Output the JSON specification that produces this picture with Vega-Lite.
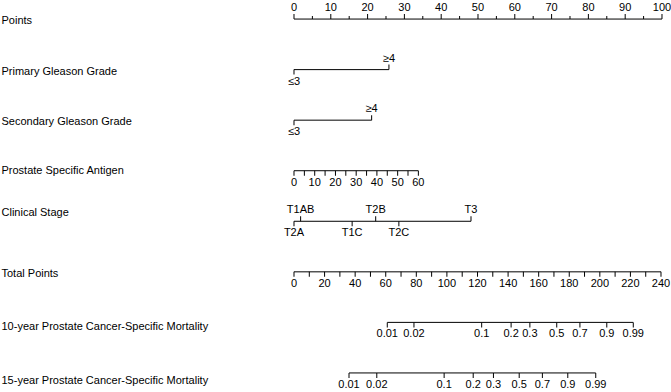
{
  "$schema": "https://vega.github.io/schema/vega-lite/v6.json",
  "width": 671,
  "height": 392,
  "autosize": {"type": "none"},
  "padding": 0,
  "background": "white",
  "config": {"view": {"stroke": null}, "text": {"font": "Liberation Sans", "fontSize": 11}},
  "data": {"values": [
    {"row": "Points", "pos": 0, "label": "0", "dir": "up", "kind": "major"},
    {"row": "Points", "pos": 5, "label": "", "dir": "up", "kind": "minor"},
    {"row": "Points", "pos": 10, "label": "10", "dir": "up", "kind": "major"},
    {"row": "Points", "pos": 15, "label": "", "dir": "up", "kind": "minor"},
    {"row": "Points", "pos": 20, "label": "20", "dir": "up", "kind": "major"},
    {"row": "Points", "pos": 25, "label": "", "dir": "up", "kind": "minor"},
    {"row": "Points", "pos": 30, "label": "30", "dir": "up", "kind": "major"},
    {"row": "Points", "pos": 35, "label": "", "dir": "up", "kind": "minor"},
    {"row": "Points", "pos": 40, "label": "40", "dir": "up", "kind": "major"},
    {"row": "Points", "pos": 45, "label": "", "dir": "up", "kind": "minor"},
    {"row": "Points", "pos": 50, "label": "50", "dir": "up", "kind": "major"},
    {"row": "Points", "pos": 55, "label": "", "dir": "up", "kind": "minor"},
    {"row": "Points", "pos": 60, "label": "60", "dir": "up", "kind": "major"},
    {"row": "Points", "pos": 65, "label": "", "dir": "up", "kind": "minor"},
    {"row": "Points", "pos": 70, "label": "70", "dir": "up", "kind": "major"},
    {"row": "Points", "pos": 75, "label": "", "dir": "up", "kind": "minor"},
    {"row": "Points", "pos": 80, "label": "80", "dir": "up", "kind": "major"},
    {"row": "Points", "pos": 85, "label": "", "dir": "up", "kind": "minor"},
    {"row": "Points", "pos": 90, "label": "90", "dir": "up", "kind": "major"},
    {"row": "Points", "pos": 95, "label": "", "dir": "up", "kind": "minor"},
    {"row": "Points", "pos": 100, "label": "100", "dir": "up", "kind": "major"},

    {"row": "Primary Gleason Grade", "pos": 0, "label": "≤3", "dir": "down", "kind": "major"},
    {"row": "Primary Gleason Grade", "pos": 25.8, "label": "≥4", "dir": "up", "kind": "major"},

    {"row": "Secondary Gleason Grade", "pos": 0, "label": "≤3", "dir": "down", "kind": "major"},
    {"row": "Secondary Gleason Grade", "pos": 21.1, "label": "≥4", "dir": "up", "kind": "major"},

    {"row": "Prostate Specific Antigen", "pos": 0, "label": "0", "dir": "down", "kind": "major"},
    {"row": "Prostate Specific Antigen", "pos": 2.82, "label": "", "dir": "down", "kind": "major"},
    {"row": "Prostate Specific Antigen", "pos": 5.63, "label": "10", "dir": "down", "kind": "major"},
    {"row": "Prostate Specific Antigen", "pos": 8.45, "label": "", "dir": "down", "kind": "major"},
    {"row": "Prostate Specific Antigen", "pos": 11.27, "label": "20", "dir": "down", "kind": "major"},
    {"row": "Prostate Specific Antigen", "pos": 14.08, "label": "", "dir": "down", "kind": "major"},
    {"row": "Prostate Specific Antigen", "pos": 16.9, "label": "30", "dir": "down", "kind": "major"},
    {"row": "Prostate Specific Antigen", "pos": 19.72, "label": "", "dir": "down", "kind": "major"},
    {"row": "Prostate Specific Antigen", "pos": 22.53, "label": "40", "dir": "down", "kind": "major"},
    {"row": "Prostate Specific Antigen", "pos": 25.35, "label": "", "dir": "down", "kind": "major"},
    {"row": "Prostate Specific Antigen", "pos": 28.17, "label": "50", "dir": "down", "kind": "major"},
    {"row": "Prostate Specific Antigen", "pos": 30.98, "label": "", "dir": "down", "kind": "major"},
    {"row": "Prostate Specific Antigen", "pos": 33.8, "label": "60", "dir": "down", "kind": "major"},

    {"row": "Clinical Stage", "pos": 1.8, "label": "T1AB", "dir": "up", "kind": "major"},
    {"row": "Clinical Stage", "pos": 22.2, "label": "T2B", "dir": "up", "kind": "major"},
    {"row": "Clinical Stage", "pos": 48.1, "label": "T3", "dir": "up", "kind": "major"},
    {"row": "Clinical Stage", "pos": 0, "label": "T2A", "dir": "down", "kind": "major"},
    {"row": "Clinical Stage", "pos": 15.8, "label": "T1C", "dir": "down", "kind": "major"},
    {"row": "Clinical Stage", "pos": 28.5, "label": "T2C", "dir": "down", "kind": "major"},

    {"row": "Total Points", "pos": 0, "label": "0", "dir": "down", "kind": "major"},
    {"row": "Total Points", "pos": 4.16, "label": "", "dir": "down", "kind": "major"},
    {"row": "Total Points", "pos": 8.31, "label": "20", "dir": "down", "kind": "major"},
    {"row": "Total Points", "pos": 12.47, "label": "", "dir": "down", "kind": "major"},
    {"row": "Total Points", "pos": 16.62, "label": "40", "dir": "down", "kind": "major"},
    {"row": "Total Points", "pos": 20.78, "label": "", "dir": "down", "kind": "major"},
    {"row": "Total Points", "pos": 24.93, "label": "60", "dir": "down", "kind": "major"},
    {"row": "Total Points", "pos": 29.09, "label": "", "dir": "down", "kind": "major"},
    {"row": "Total Points", "pos": 33.24, "label": "80", "dir": "down", "kind": "major"},
    {"row": "Total Points", "pos": 37.40, "label": "", "dir": "down", "kind": "major"},
    {"row": "Total Points", "pos": 41.55, "label": "100", "dir": "down", "kind": "major"},
    {"row": "Total Points", "pos": 45.71, "label": "", "dir": "down", "kind": "major"},
    {"row": "Total Points", "pos": 49.87, "label": "120", "dir": "down", "kind": "major"},
    {"row": "Total Points", "pos": 54.02, "label": "", "dir": "down", "kind": "major"},
    {"row": "Total Points", "pos": 58.18, "label": "140", "dir": "down", "kind": "major"},
    {"row": "Total Points", "pos": 62.33, "label": "", "dir": "down", "kind": "major"},
    {"row": "Total Points", "pos": 66.49, "label": "160", "dir": "down", "kind": "major"},
    {"row": "Total Points", "pos": 70.64, "label": "", "dir": "down", "kind": "major"},
    {"row": "Total Points", "pos": 74.80, "label": "180", "dir": "down", "kind": "major"},
    {"row": "Total Points", "pos": 78.95, "label": "", "dir": "down", "kind": "major"},
    {"row": "Total Points", "pos": 83.11, "label": "200", "dir": "down", "kind": "major"},
    {"row": "Total Points", "pos": 87.26, "label": "", "dir": "down", "kind": "major"},
    {"row": "Total Points", "pos": 91.42, "label": "220", "dir": "down", "kind": "major"},
    {"row": "Total Points", "pos": 95.58, "label": "", "dir": "down", "kind": "major"},
    {"row": "Total Points", "pos": 99.73, "label": "240", "dir": "down", "kind": "major"},

    {"row": "10-year Prostate Cancer-Specific Mortality", "pos": 25.35, "label": "0.01", "dir": "down", "kind": "major"},
    {"row": "10-year Prostate Cancer-Specific Mortality", "pos": 32.6, "label": "0.02", "dir": "down", "kind": "major"},
    {"row": "10-year Prostate Cancer-Specific Mortality", "pos": 51.0, "label": "0.1", "dir": "down", "kind": "major"},
    {"row": "10-year Prostate Cancer-Specific Mortality", "pos": 59.0, "label": "0.2", "dir": "down", "kind": "major"},
    {"row": "10-year Prostate Cancer-Specific Mortality", "pos": 64.1, "label": "0.3", "dir": "down", "kind": "major"},
    {"row": "10-year Prostate Cancer-Specific Mortality", "pos": 71.4, "label": "0.5", "dir": "down", "kind": "major"},
    {"row": "10-year Prostate Cancer-Specific Mortality", "pos": 77.7, "label": "0.7", "dir": "down", "kind": "major"},
    {"row": "10-year Prostate Cancer-Specific Mortality", "pos": 85.0, "label": "0.9", "dir": "down", "kind": "major"},
    {"row": "10-year Prostate Cancer-Specific Mortality", "pos": 92.2, "label": "0.99", "dir": "down", "kind": "major"},

    {"row": "15-year Prostate Cancer-Specific Mortality", "pos": 14.95, "label": "0.01", "dir": "down", "kind": "major"},
    {"row": "15-year Prostate Cancer-Specific Mortality", "pos": 22.5, "label": "0.02", "dir": "down", "kind": "major"},
    {"row": "15-year Prostate Cancer-Specific Mortality", "pos": 40.8, "label": "0.1", "dir": "down", "kind": "major"},
    {"row": "15-year Prostate Cancer-Specific Mortality", "pos": 48.7, "label": "0.2", "dir": "down", "kind": "major"},
    {"row": "15-year Prostate Cancer-Specific Mortality", "pos": 54.2, "label": "0.3", "dir": "down", "kind": "major"},
    {"row": "15-year Prostate Cancer-Specific Mortality", "pos": 61.2, "label": "0.5", "dir": "down", "kind": "major"},
    {"row": "15-year Prostate Cancer-Specific Mortality", "pos": 67.5, "label": "0.7", "dir": "down", "kind": "major"},
    {"row": "15-year Prostate Cancer-Specific Mortality", "pos": 74.4, "label": "0.9", "dir": "down", "kind": "major"},
    {"row": "15-year Prostate Cancer-Specific Mortality", "pos": 82.0, "label": "0.99", "dir": "down", "kind": "major"}
  ]},
  "encoding": {
    "x": {"field": "pos", "type": "quantitative", "scale": {"domain": [-79.89, 102.45], "nice": false, "zero": false}, "axis": null},
    "y": {"field": "row", "type": "nominal", "scale": {"type": "point", "padding": 0.377, "domain": ["Points", "Primary Gleason Grade", "Secondary Gleason Grade", "Prostate Specific Antigen", "Clinical Stage", "Total Points", "10-year Prostate Cancer-Specific Mortality", "15-year Prostate Cancer-Specific Mortality"]},
      "axis": {"orient": "left", "title": null, "domain": false, "ticks": false, "tickSize": 0, "labelPadding": -1, "labelAlign": "left",
        "labelOffset": {"condition": [
          {"test": "datum.value === 'Clinical Stage'", "value": -9},
          {"test": "datum.value === '10-year Prostate Cancer-Specific Mortality'", "value": 4},
          {"test": "datum.value === '15-year Prostate Cancer-Specific Mortality'", "value": 8},
          {"test": "datum.value === 'Prostate Specific Antigen'", "value": 0}
        ], "value": 1.5},
        "labelLimit": 400, "labelFont": "Liberation Sans", "labelFontSize": 11, "labelColor": "black", "grid": false, "labelOverlap": false}}
  },
  "layer": [
    {
      "transform": [{"aggregate": [{"op": "min", "field": "pos", "as": "lo"}, {"op": "max", "field": "pos", "as": "hi"}], "groupby": ["row"]}],
      "mark": {"type": "rule", "color": "black", "strokeWidth": 1},
      "encoding": {
        "x": {"field": "lo", "type": "quantitative"},
        "x2": {"field": "hi"}
      }
    },
    {
      "transform": [{"filter": "datum.dir === 'up' && datum.kind === 'major'"}],
      "mark": {"type": "tick", "color": "black", "size": 5, "thickness": 1, "yOffset": -2.5, "opacity": 1}
    },
    {
      "transform": [{"filter": "datum.dir === 'up' && datum.kind === 'minor'"}],
      "mark": {"type": "tick", "color": "black", "size": 3, "thickness": 1, "yOffset": -1.5, "opacity": 1}
    },
    {
      "transform": [{"filter": "datum.dir === 'down'"}],
      "mark": {"type": "tick", "color": "black", "size": 5, "thickness": 1, "yOffset": 2.5, "opacity": 1}
    },
    {
      "transform": [{"filter": "datum.dir === 'up' && datum.label !== ''"}],
      "mark": {"type": "text", "color": "black", "baseline": "alphabetic", "dy": -8},
      "encoding": {"text": {"field": "label"}}
    },
    {
      "transform": [{"filter": "datum.dir === 'down' && datum.label !== ''"}],
      "mark": {"type": "text", "color": "black", "baseline": "top", "dy": 6},
      "encoding": {"text": {"field": "label"}}
    }
  ]
}
